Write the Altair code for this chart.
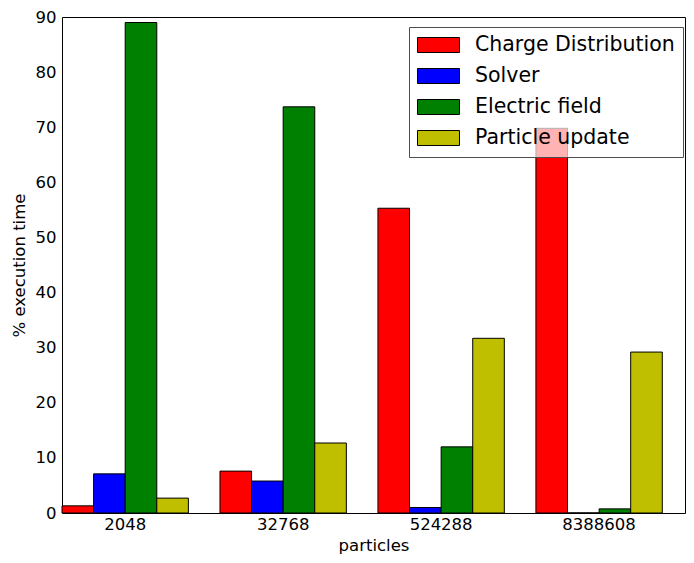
import altair as alt
import pandas as pd

groups = ["2048", "32768", "524288", "8388608"]
series = ["Charge Distribution", "Solver", "Electric field", "Particle update"]
charge = [1.3, 7.6, 55.3, 69.8]
solver = [7.1, 5.8, 1.0, 0.02]
electric = [89.0, 73.7, 12.0, 0.75]
particle = [2.7, 12.7, 31.7, 29.2]
colors = ["#ff0000", "#0000ff", "#008000", "#bfbf00"]
y_ticks = [0, 10, 20, 30, 40, 50, 60, 70, 80, 90]

rows = []
for s, vals in zip(series, [charge, solver, electric, particle]):
    for g, v in zip(groups, vals):
        rows.append({"particles": g, "series": s, "value": v})
df = pd.DataFrame(rows)

chart = alt.Chart(df).mark_bar(stroke="black", strokeWidth=1, opacity=1).encode(
    x=alt.X(
        "particles:N",
        sort=groups,
        scale=alt.Scale(paddingInner=0.2, paddingOuter=0.071875, align=0),
        axis=alt.Axis(title="particles", labelAngle=0, ticks=False, domain=False,
                      labelPadding=3, titlePadding=4.5),
    ),
    xOffset=alt.XOffset("series:N", sort=series,
                        scale=alt.Scale(paddingInner=0, paddingOuter=0)),
    y=alt.Y(
        "value:Q",
        scale=alt.Scale(domain=[0, 90], nice=False),
        axis=alt.Axis(title="% execution time", values=y_ticks, grid=False, ticks=False,
                      domain=False, labelPadding=6, titlePadding=8),
    ),
    color=alt.Color(
        "series:N",
        sort=series,
        scale=alt.Scale(domain=series, range=colors),
        legend=alt.Legend(
            title=None,
            orient="none",
            legendX=347,
            legendY=10,
            symbolType="M-1,-0.357H1V0.357H-1Z",
            symbolSize=1764,
            symbolStrokeColor="black",
            symbolStrokeWidth=1,
            symbolOpacity=1,
            labelFont="DejaVu Sans",
            labelFontSize=20.5,
            labelColor="black",
            labelOffset=15,
            padding=8,
            rowPadding=10,
            clipHeight=20,
            fillColor="rgba(255,255,255,0.7)",
            strokeColor="#4d4d4d",
            labelLimit=400,
        ),
    ),
).properties(
    width=623,
    height=496,
    autosize=alt.AutoSizeParams(type="none"),
    padding={"left": 54, "top": 9, "right": 1, "bottom": 42},
).configure_view(
    stroke="black", strokeWidth=1
).configure_axis(
    labelFont="DejaVu Sans", titleFont="DejaVu Sans",
    labelFontSize=16.5, titleFontSize=16.5,
    labelColor="black", titleColor="black", titleFontWeight="normal",
)

chart.save("out.html", embed_options={"renderer": "svg", "actions": False})
